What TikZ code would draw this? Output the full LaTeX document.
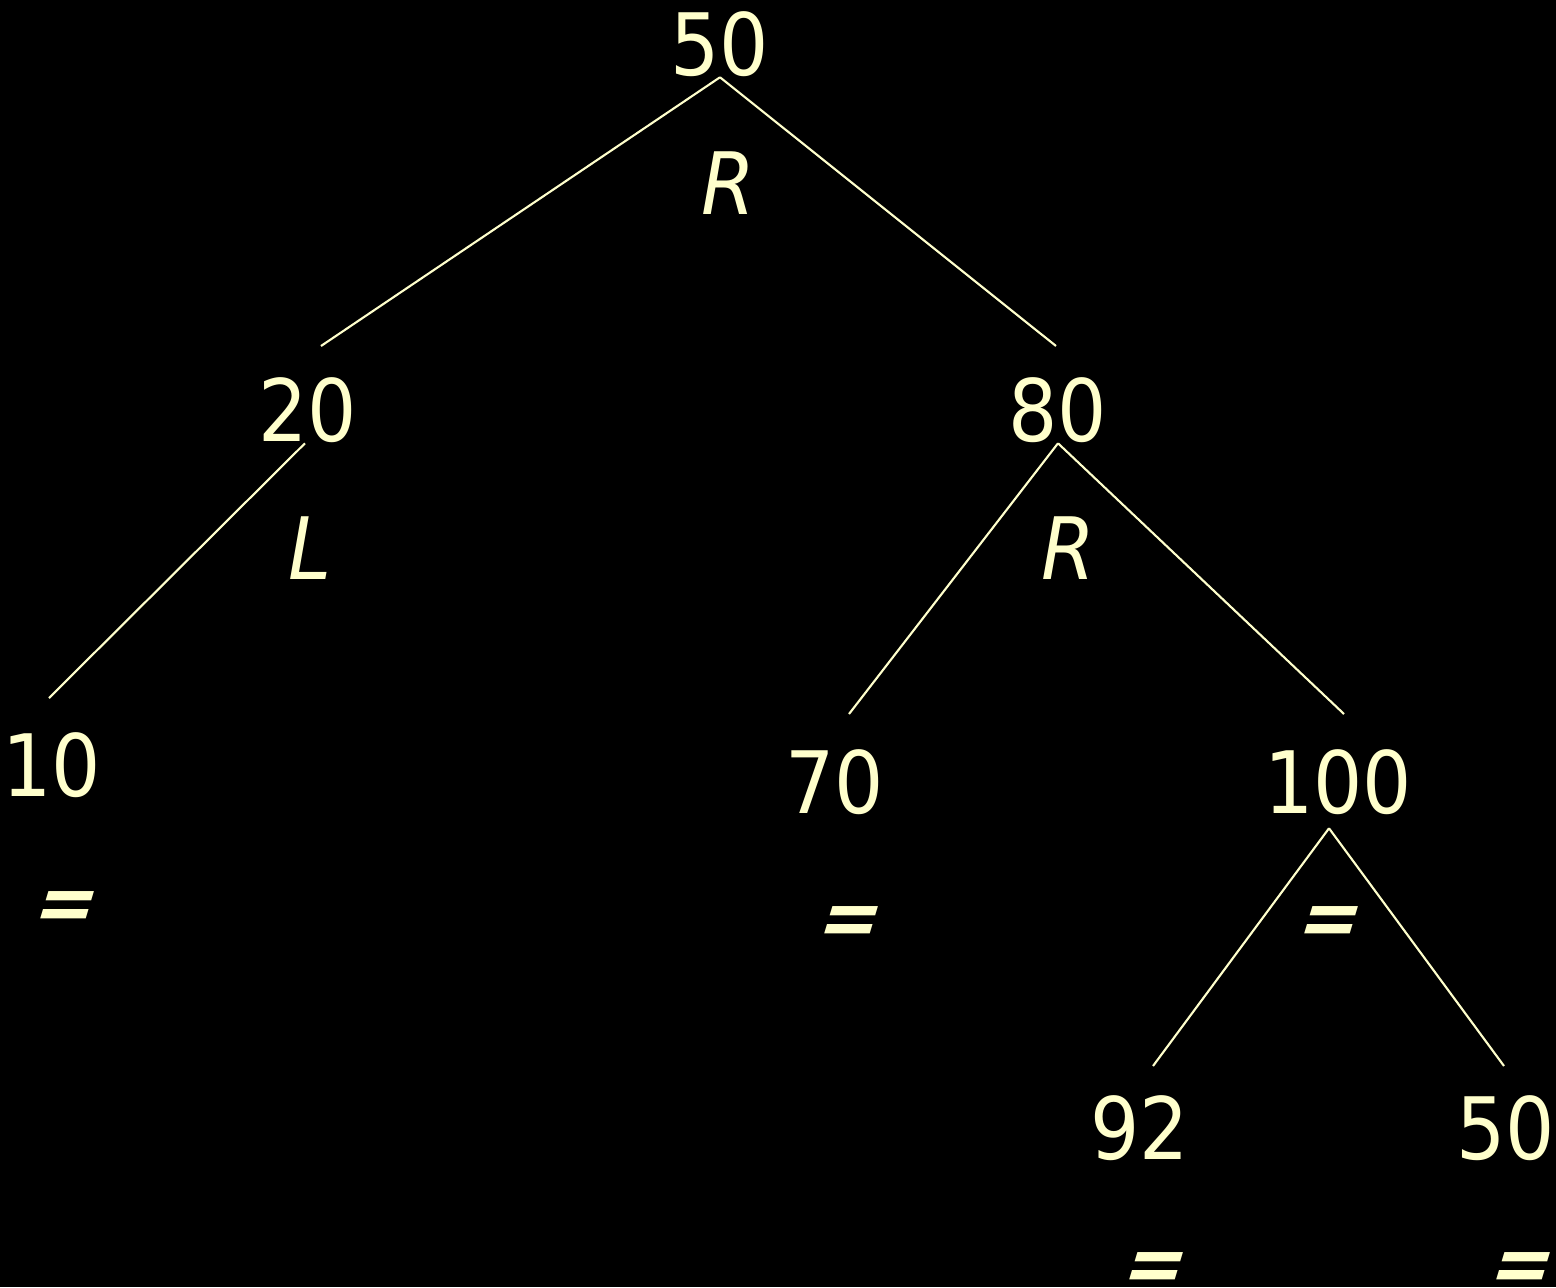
\documentclass[tikz,border=0pt]{standalone}
\usepackage{fontspec}
\setmainfont{DejaVu Sans Condensed}
\definecolor{chalk}{HTML}{FFFFCC}

\begin{document}
\begin{tikzpicture}[font=\fontsize{24.5}{29}\selectfont,
  nd/.style={text=chalk,inner sep=0pt},
  bal/.style={text=chalk,inner sep=0pt,font=\fontsize{24.5}{29}\selectfont\itshape},
  eq/.style={text=chalk,inner sep=0pt,xslant=0.3,font=\fontsize{23}{28}\selectfont\bfseries}]
  \fill[black] (0,0) rectangle (15.56,-12.87);
  \useasboundingbox (0,0) rectangle (15.56,-12.87);
  % keys
  \node[nd] (r50) at (7.20,-0.44) {50};
  \node[nd] (k20) at (3.08,-4.10) {20};
  \node[nd] (k80) at (10.58,-4.10) {80};
  \node[nd] (k10) at (0.52,-7.65) {10};
  \node[nd] (k70) at (8.35,-7.82) {70};
  \node[nd] (k100) at (13.38,-7.82) {100};
  \node[nd] (k92) at (11.40,-11.28) {92};
  \node[nd] (k50) at (15.06,-11.28) {50};
  % balance marks
  \node[bal] (b50) at (7.28,-1.83) {R};
  \node[bal] (b20) at (3.10,-5.48) {L};
  \node[bal] (b80) at (10.68,-5.48) {R};
  \node[eq] (b10) at (0.66,-9.11) {=};
  \node[eq] (b70) at (8.50,-9.26) {=};
  \node[eq] (b100) at (13.30,-9.26) {=};
  \node[eq] (b92) at (11.55,-12.72) {=};
  \node[eq] (b50b) at (15.22,-12.72) {=};
  % branch ends
  \coordinate (e20) at (3.21,-3.46);
  \coordinate (e80) at (10.56,-3.46);
  \coordinate (e10) at (0.49,-6.98);
  \coordinate (e70) at (8.49,-7.14);
  \coordinate (e100) at (13.44,-7.14);
  \coordinate (e92) at (11.53,-10.66);
  \coordinate (e50) at (15.04,-10.66);
  \draw[chalk,line width=0.6pt] (r50.south) -- (e20);
  \draw[chalk,line width=0.6pt] (r50.south) -- (e80);
  \draw[chalk,line width=0.6pt] ([xshift=-0.03cm]k20.south) -- (e10);
  \draw[chalk,line width=0.6pt] (k80.south) -- (e70);
  \draw[chalk,line width=0.6pt] (k80.south) -- (e100);
  \draw[chalk,line width=0.6pt] ([xshift=-0.09cm,yshift=-0.13cm]k100.south) -- (e92);
  \draw[chalk,line width=0.6pt] ([xshift=-0.09cm,yshift=-0.13cm]k100.south) -- (e50);
\end{tikzpicture}
\end{document}
